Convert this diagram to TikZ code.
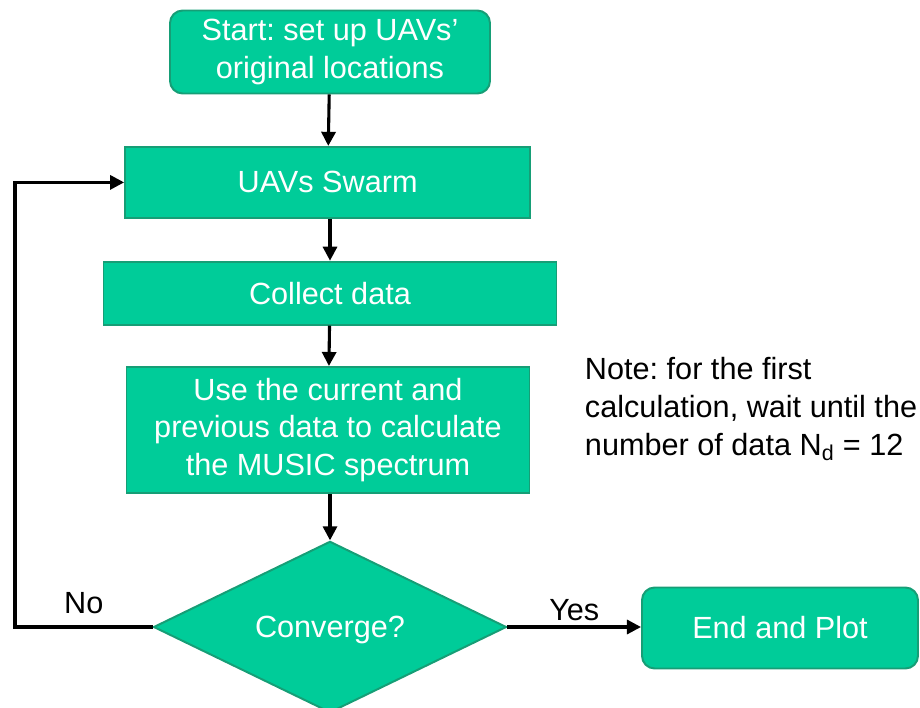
\documentclass[tikz,border=0pt]{standalone}
\usepackage{fontspec}
\setmainfont{Liberation Sans}
\usetikzlibrary{arrows.meta, shapes.geometric}
\frenchspacing

\definecolor{boxfill}{RGB}{0,204,153}
\definecolor{boxline}{RGB}{22,158,118}

\begin{document}
\begin{tikzpicture}[
  box/.style={rectangle, draw=boxline, fill=boxfill, line width=1.4pt, align=center,
              text=white, font=\fontsize{21.8}{26.5}\selectfont, inner sep=0pt},
  roundbox/.style={box, rounded corners=9pt},
  decision/.style={diamond, draw=boxline, fill=boxfill, line width=1.4pt, align=center,
                   text=white, font=\fontsize{21.8}{26.5}\selectfont, inner sep=0pt,
                   text depth=0pt},
  arrow/.style={-{Triangle[length=10pt, width=10pt]}, line width=2.2pt},
  lbl/.style={font=\fontsize{21.8}{26.5}\selectfont}
]
\useasboundingbox (0,0) rectangle (23,-17.7);

\node[roundbox, minimum width=8.0cm, minimum height=2.075cm] (start) at (8.25,-1.3)
  {Start: set up UAVs’\\original locations};
\node[box, minimum width=10.125cm, minimum height=1.775cm] (swarm) at (8.19,-4.56) {UAVs Swarm};
\node[box, minimum width=11.325cm, minimum height=1.575cm] (collect) at (8.25,-7.33) {Collect data};
\node[box, minimum width=10.075cm, minimum height=3.15cm] (music) at (8.2,-10.75)
  {Use the current and\\previous data to calculate\\the MUSIC spectrum};
\node[decision, minimum width=8.825cm, minimum height=4.2cm] (conv) at (8.25,-15.675) {Converge?};
\node[roundbox, minimum width=6.9cm, minimum height=2.025cm] (endp) at (19.5,-15.7) {End and Plot};

\node[lbl, anchor=west, align=left, font=\fontsize{21.8}{27}\selectfont] (note) at (14.5,-10.22)
  {Note: for the first\\calculation, wait until the\\number of data N\textsubscript{d} = 12};

\coordinate (loop) at (0.375,-15.675);

\draw[arrow] (start) -- (swarm);
\draw[arrow] (swarm.south -| collect) -- (collect);
\draw[arrow] (collect) -- (music);
\draw[arrow] (music.south -| conv) -- (conv.north);
\draw[arrow] (conv.west) -- node[lbl, midway, above=5pt] {No} (loop) |- (swarm.west);
\draw[arrow] (conv.east) -- node[lbl, midway, above=0pt] {Yes} (endp.west |- conv.east);
\end{tikzpicture}
\end{document}
